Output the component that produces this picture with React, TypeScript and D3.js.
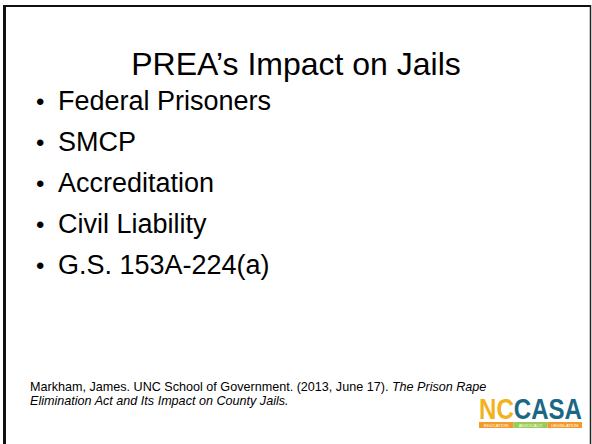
import React from "react";
import * as d3 from "d3";

const TITLE = "PREA\u2019s Impact on Jails";
const BULLETS = [
  "Federal Prisoners",
  "SMCP",
  "Accreditation",
  "Civil Liability",
  "G.S. 153A-224(a)",
];
const CITATION_PLAIN = "Markham, James. UNC School of Government. (2013, June 17). ";
const CITATION_ITALIC_1 = "The Prison Rape";
const CITATION_ITALIC_2 = "Elimination Act and Its Impact on County Jails.";
const LOGO_PARTS = ["NC", "CASA"];
const TAGLINE = ["EDUCATION", "ADVOCACY", "LEGISLATION"];

const W = 592;
const H = 444;
const FONT = "'Liberation Sans', Arial, Helvetica, sans-serif";

export default function App() {
  const y = d3
    .scalePoint<string>()
    .domain(BULLETS)
    .range([110, 274]);

  const tagX = d3
    .scaleBand<string>()
    .domain(TAGLINE)
    .range([479, 582])
    .paddingInner(0);

  return (
    <svg
      width={W}
      height={H}
      style={{ position: "absolute", left: 0, top: 0, background: "#fff" }}
      fontFamily={FONT}
    >
      <rect x={0} y={0} width={W} height={H} fill="#fff" />
      {/* slide frame */}
      <line x1={3} x2={591} y1={6} y2={6} stroke="#111" strokeWidth={2} />
      <line x1={4.5} x2={4.5} y1={5} y2={H} stroke="#111" strokeWidth={3} />
      <line x1={590.5} x2={590.5} y1={5} y2={H} stroke="#222" strokeWidth={1.5} />

      <text x={296} y={75} textAnchor="middle" fontSize={32} fill="#000">
        {TITLE}
      </text>

      {BULLETS.map((b) => (
        <g key={b}>
          <text x={36} y={y(b)} fontSize={24} fill="#000">
            {"\u2022"}
          </text>
          <text x={58} y={y(b)} fontSize={27} fill="#000">
            {b}
          </text>
        </g>
      ))}

      <text x={30} y={391} fontSize={12.6} fill="#000">
        {CITATION_PLAIN}
        <tspan fontStyle="italic">{CITATION_ITALIC_1}</tspan>
      </text>
      <text x={30} y={405} fontSize={12.6} fill="#000" fontStyle="italic">
        {CITATION_ITALIC_2}
      </text>

      {/* logo */}
      <text
        x={479}
        y={419}
        fontSize={29}
        fontWeight="bold"
        textLength={103}
        lengthAdjust="spacingAndGlyphs"
      >
        <tspan fill="#F2B21C">{LOGO_PARTS[0]}</tspan>
        <tspan fill="#1C6783">{LOGO_PARTS[1]}</tspan>
      </text>
      {TAGLINE.map((t, i) => (
        <g key={t}>
          <rect
            x={tagX(t)}
            y={422}
            width={tagX.bandwidth()}
            height={6}
            fill={i === 1 ? "#9CCB5A" : "#F39A2B"}
          />
          <text
            x={(tagX(t) as number) + tagX.bandwidth() / 2}
            y={426.8}
            fontSize={4.2}
            textAnchor="middle"
            fill="#fff"
          >
            {t}
          </text>
        </g>
      ))}
    </svg>
  );
}
